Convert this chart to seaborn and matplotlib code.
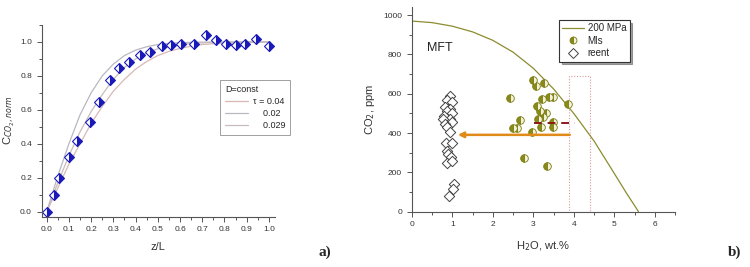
import matplotlib
matplotlib.use("Agg")

import matplotlib.pyplot as plt
import seaborn as sns
from matplotlib.lines import Line2D
from matplotlib.patches import Rectangle
from matplotlib.ticker import MultipleLocator, FormatStrFormatter

# ---- panel a) data ----
z_pts = [0.0, 0.033, 0.057, 0.102, 0.138, 0.193, 0.235, 0.284, 0.326, 0.37, 0.42,
         0.467, 0.519, 0.561, 0.606, 0.662, 0.719, 0.763, 0.805, 0.85, 0.892, 0.94, 1.0]
c_pts = [0.0, 0.10, 0.199, 0.323, 0.419, 0.53, 0.648, 0.774, 0.845, 0.882, 0.921,
         0.943, 0.976, 0.982, 0.99, 0.99, 1.039, 1.012, 0.99, 0.982, 0.99, 1.016, 0.976]

z_curve = [0.0, 0.05, 0.1, 0.15, 0.2, 0.25, 0.3, 0.35, 0.4, 0.45, 0.5,
           0.55, 0.6, 0.65, 0.7, 0.75, 0.8, 0.9, 1.0]
c_tau_004 = [0.0, 0.14, 0.28, 0.40, 0.52, 0.62, 0.71, 0.78, 0.84, 0.885, 0.92,
             0.945, 0.962, 0.975, 0.985, 0.99, 0.994, 0.998, 1.0]
c_tau_002 = [0.0, 0.21, 0.40, 0.57, 0.70, 0.80, 0.87, 0.92, 0.952, 0.972, 0.985,
             0.992, 0.996, 0.998, 0.999, 1.0, 1.0, 1.0, 1.0]
c_tau_0029 = [0.0, 0.17, 0.33, 0.47, 0.59, 0.69, 0.78, 0.85, 0.90, 0.935, 0.96,
              0.975, 0.985, 0.991, 0.995, 0.997, 0.999, 1.0, 1.0]
curve_labels = ["\u03c4 = 0.04", "    0.02", "    0.029"]

# ---- panel b) data ----
h2o_curve = [0, 0.5, 1, 1.5, 2, 2.5, 3, 3.5, 4, 4.5, 5, 5.3, 5.6]
co2_curve = [970, 962, 944, 915, 872, 812, 730, 625, 500, 360, 195, 95, 0]

mis_h2o = [2.43, 3.0, 3.08, 3.26, 3.22, 3.39, 3.48, 3.1, 3.16, 3.31, 3.25, 3.12,
           3.48, 3.48, 2.67, 2.49, 2.61, 3.18, 2.97, 3.86, 2.78, 3.34]
mis_co2 = [580, 670, 639, 655, 575, 585, 585, 537, 512, 503, 483, 470,
           458, 431, 466, 427, 427, 430, 403, 546, 275, 232]

reent_h2o = [0.95, 0.88, 0.99, 0.83, 0.95, 0.88, 1.0, 0.8, 0.95, 0.78, 0.99, 0.82,
             0.88, 0.95, 0.85, 1.0, 0.88, 0.9, 0.97, 0.87, 1.0, 1.05, 1.02, 0.93]
reent_co2 = [588, 568, 560, 534, 525, 510, 504, 487, 470, 470, 455, 445,
             430, 407, 348, 350, 307, 295, 280, 246, 260, 141, 117, 80]

arrow_y = 391
arrow_x = [3.97, 1.07]
dash_y = 449
dash_x = [3.03, 4.03]
box_x = [3.89, 4.40]
box_top = 690

sns.set_style("ticks")
plt.rcParams["font.family"] = ["Liberation Sans", "DejaVu Sans"]

fig = plt.figure(figsize=(7.5, 2.67), dpi=100)
ax1 = fig.add_axes([0.0556, 0.1884, 0.311, 0.718])
ax2 = fig.add_axes([0.549, 0.2071, 0.351, 0.7656])

spine_c = "#555555"


def style_axes(ax):
    for s in ["top", "right"]:
        ax.spines[s].set_visible(False)
    for s in ["left", "bottom"]:
        ax.spines[s].set_color(spine_c)
        ax.spines[s].set_linewidth(0.8)
    ax.tick_params(which="both", direction="out", color=spine_c,
                   labelsize=6, labelcolor="#333333", width=0.7)
    ax.tick_params(which="major", length=3.5)
    ax.tick_params(which="minor", length=2)


# -------------------------------
# a) concentration profile
# -------------------------------
curve_colors = ["#d9b7b7", "#b8b8c2", "#c9bcbc"]
for vals, lab, col in zip([c_tau_004, c_tau_002, c_tau_0029], curve_labels, curve_colors):
    sns.lineplot(x=z_curve, y=vals, ax=ax1, color=col, linewidth=0.9,
                 estimator=None, sort=False, label=lab)

sns.lineplot(x=z_pts, y=c_pts, ax=ax1, estimator=None, sort=False,
             linestyle="none", marker="D", markersize=5.5, color="#1a1ab8",
             fillstyle="right", markerfacecoloralt="white",
             markeredgecolor="#1a1ab8", markeredgewidth=0.8)

ax1.set_xlim(-0.022, 1.027)
ax1.set_ylim(-0.028, 1.1)
ax1.xaxis.set_major_locator(MultipleLocator(0.1))
ax1.xaxis.set_minor_locator(MultipleLocator(0.05))
ax1.yaxis.set_major_locator(MultipleLocator(0.2))
ax1.yaxis.set_minor_locator(MultipleLocator(0.1))
ax1.xaxis.set_major_formatter(FormatStrFormatter("%.1f"))
ax1.yaxis.set_major_formatter(FormatStrFormatter("%.1f"))
style_axes(ax1)
ax1.set_xlabel("z/L", fontsize=8, color="#333333", labelpad=6)
ax1.set_ylabel(r"C$_{CO_2,norm}$", fontsize=8, color="#333333", labelpad=2)

h1 = [Line2D([], [], color=c, lw=0.9) for c in curve_colors]
leg1 = ax1.legend(h1, curve_labels, title="D=const", loc="upper left",
                  bbox_to_anchor=(220 / 750, 1 - 80 / 267), bbox_transform=fig.transFigure,
                  fontsize=6.5, title_fontsize=6.5, frameon=True, fancybox=False,
                  handlelength=2.6, borderpad=0.55, labelspacing=0.35,
                  handletextpad=0.5, borderaxespad=0)
leg1._legend_box.align = "left"
leg1.get_frame().set_edgecolor("#888888")
leg1.get_frame().set_linewidth(0.7)

# -------------------------------
# b) CO2 vs H2O
# -------------------------------
sns.lineplot(x=h2o_curve, y=co2_curve, ax=ax2, color="#8c8c30", linewidth=0.9,
             estimator=None, sort=False)

ax2.add_patch(Rectangle((box_x[0], 0), box_x[1] - box_x[0], box_top,
                        fill=False, edgecolor="#e09a9a", linestyle=(0, (1, 1.5)),
                        linewidth=0.8))

ax2.annotate("", xy=(arrow_x[1], arrow_y), xytext=(arrow_x[0], arrow_y),
             arrowprops=dict(arrowstyle="-|>", color="#e08a1a", lw=1.8,
                             mutation_scale=8))

sns.scatterplot(x=reent_h2o, y=reent_co2, ax=ax2, marker="D", s=28,
                facecolor="white", edgecolor="#444444", linewidth=0.7, zorder=3)

sns.lineplot(x=mis_h2o, y=mis_co2, ax=ax2, estimator=None, sort=False,
             linestyle="none", marker="o", markersize=5.5, color="#8a8a18",
             fillstyle="left", markerfacecoloralt="#f2f2d8",
             markeredgecolor="#7a7a10", markeredgewidth=0.6)

sns.lineplot(x=dash_x, y=[dash_y, dash_y], ax=ax2, color="#8b1a1a", linewidth=1.4,
             linestyle=(0, (4, 3)), estimator=None, zorder=5)

ax2.text(0.37, 835, "MFT", fontsize=9, color="#222222", va="center")

ax2.set_xlim(0, 6.5)
ax2.set_ylim(0, 1040)
ax2.xaxis.set_major_locator(MultipleLocator(1))
ax2.xaxis.set_minor_locator(MultipleLocator(0.5))
ax2.yaxis.set_major_locator(MultipleLocator(200))
ax2.yaxis.set_minor_locator(MultipleLocator(100))
style_axes(ax2)
ax2.set_xlabel(r"H$_2$O, wt.%", fontsize=8, color="#333333", labelpad=8)
ax2.set_ylabel(r"CO$_2$, ppm", fontsize=8, color="#333333", labelpad=4)

h2 = [Line2D([], [], color="#8c8c30", lw=0.9),
      Line2D([], [], linestyle="none", marker="o", markersize=5, color="#8a8a18",
             fillstyle="left", markerfacecoloralt="#f2f2d8", markeredgecolor="#7a7a10",
             markeredgewidth=0.6),
      Line2D([], [], linestyle="none", marker="D", markersize=5, markerfacecolor="white",
             markeredgecolor="#444444", markeredgewidth=0.7)]
leg2 = ax2.legend(h2, ["200 MPa", "MIs", "reent"], loc="upper left",
                  bbox_to_anchor=(559 / 750, 1 - 20 / 267), bbox_transform=fig.transFigure,
                  fontsize=7, frameon=True, fancybox=False, shadow=True,
                  handlelength=2.2, borderpad=0.35, labelspacing=0.25,
                  borderaxespad=0, handletextpad=0.4)
leg2.get_frame().set_edgecolor("#333333")
leg2.get_frame().set_linewidth(0.8)

fig.text(325 / 750, 1 - 252 / 267, "a)", fontsize=11, fontweight="bold",
         family=["Liberation Serif", "DejaVu Serif"], ha="center", va="center")
fig.text(735 / 750, 1 - 252 / 267, "b)", fontsize=11, fontweight="bold",
         family=["Liberation Serif", "DejaVu Serif"], ha="center", va="center")

fig.savefig("out.png", dpi=100)
plt.close(fig)
